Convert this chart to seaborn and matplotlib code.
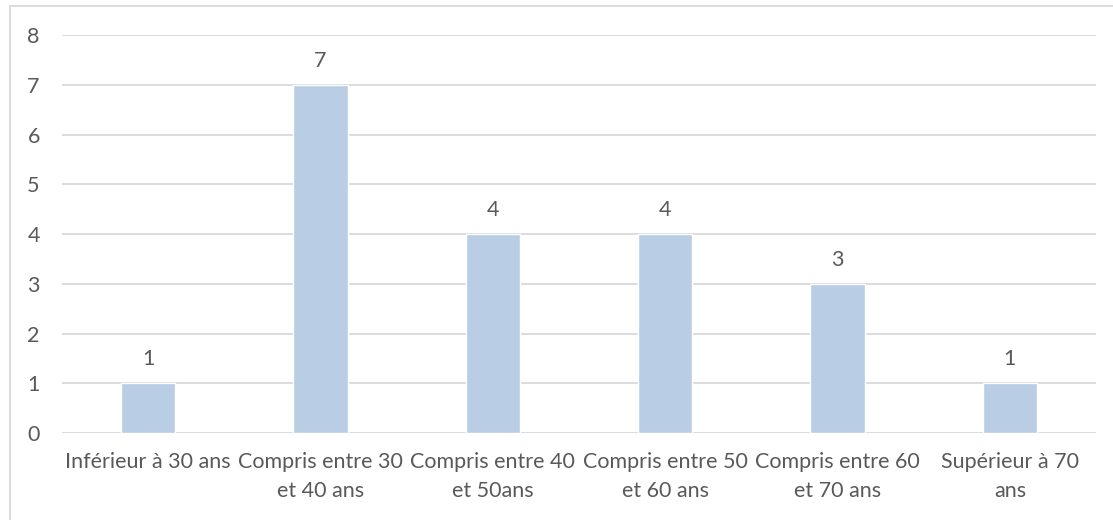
import pandas as pd
import seaborn as sns
import matplotlib.pyplot as plt
from matplotlib.patches import Rectangle

# data
categories = [
    "Inférieur à 30 ans",
    "Compris entre 30\net 40 ans",
    "Compris entre 40\net 50ans",
    "Compris entre 50\net 60 ans",
    "Compris entre 60\net 70 ans",
    "Supérieur à 70\nans",
]
counts = [1, 7, 4, 4, 3, 1]

df = pd.DataFrame({"cat": categories, "n": counts})

sns.set_style("white")
plt.rcParams['font.family'] = ['Lato', 'DejaVu Sans']

txt = "#595959"
grid = "#D9D9D9"
fs = 15.5

fig = plt.figure(figsize=(11.13, 5.2), dpi=100)
ax = fig.add_axes([62 / 1113, 87 / 520, 1034 / 1113, 398 / 520])

sns.barplot(data=df, x="cat", y="n", color="#B9CDE5", width=0.314,
            saturation=1, ax=ax, zorder=3)

ax.set_ylim(0, 8)
ax.set_xlim(-0.5, len(categories) - 0.5)
ax.set_yticks(range(0, 9))
ax.yaxis.grid(True, color=grid, linewidth=1.3, zorder=0)
ax.set_axisbelow(True)
for s in ax.spines.values():
    s.set_visible(False)
ax.set_xlabel("")
ax.set_ylabel("")
ax.tick_params(axis="y", length=0, pad=16, labelsize=fs, labelcolor=txt)
ax.tick_params(axis="x", length=0, pad=14, labelsize=fs, labelcolor=txt)
for lab in ax.get_xticklabels():
    lab.set_linespacing(1.55)

# value labels
for i, v in enumerate(counts):
    ax.annotate(str(v), (i, v), xytext=(0, 10), textcoords="offset points",
                ha="center", va="bottom", fontsize=fs, color=txt)

# chart border
fig.patches.append(Rectangle((10 / 1113, -0.1), 1.2, (514 / 520) + 0.1,
                             transform=fig.transFigure, fill=False,
                             edgecolor=grid, linewidth=1.3))

fig.savefig("out.png", dpi=100)
